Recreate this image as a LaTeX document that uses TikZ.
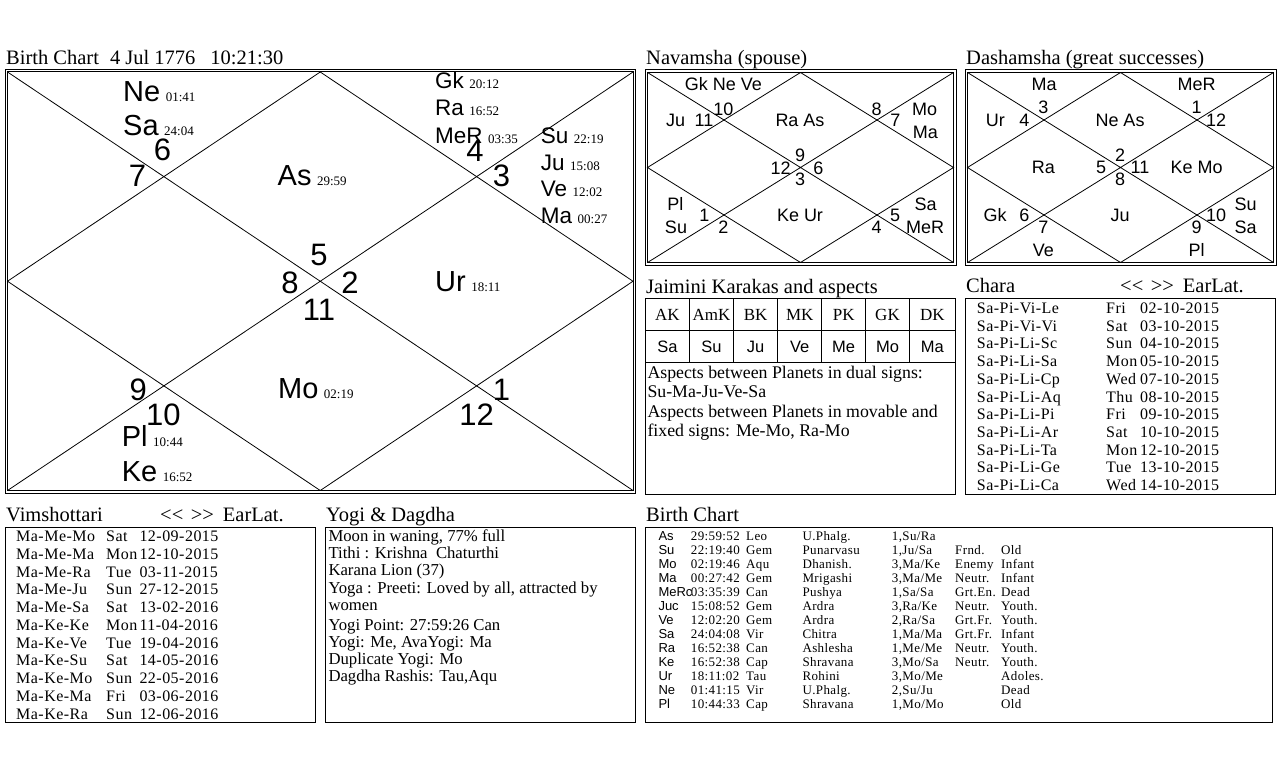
\documentclass[tikz,border=0pt]{standalone}
\usepackage{fontspec}
\setmainfont{Liberation Serif}
\setsansfont{Liberation Sans}
\newfontfamily\listfont[LetterSpace=3]{Liberation Serif}
\usetikzlibrary{calc}
\def\fsz#1{\fontsize{#1}{#1}\selectfont}
\def\pd#1#2{#1\hspace{5.5pt}{\rmfamily\fsz{13}#2}}
\def\earlat{\makebox[30.7pt][l]{\mbox{<}\mbox{<}}\makebox[32pt][l]{\mbox{>}\mbox{>}}EarLat.}

\tikzset{
  frame/.style={line width=1pt},
  cut/.style={line width=0.8pt},
  ttl/.style={font=\rmfamily\fsz{20.5},anchor=base west,inner sep=0pt},
  plan/.style={font=\sffamily\fsz{29},anchor=base west,inner sep=0pt},
  splan/.style={font=\sffamily\fsz{22.5},anchor=base west,inner sep=0pt},
  hnum/.style={font=\sffamily\fsz{31},anchor=base,inner sep=0pt},
  dlab/.style={font=\sffamily\fsz{18},anchor=base,inner sep=0pt},
  khead/.style={font=\rmfamily\fsz{17},anchor=base,inner sep=0pt},
  kval/.style={font=\sffamily\fsz{16.5},anchor=base,inner sep=0pt},
  para/.style={font=\rmfamily\fsz{17.8},anchor=base west,inner sep=0pt},
  ypara/.style={font=\rmfamily\fsz{16.7},anchor=base west,inner sep=0pt},
  row/.style={font=\listfont\fsz{16},anchor=base west,inner sep=0pt},
  btxt/.style={font=\listfont\fsz{13},anchor=base west,inner sep=0pt},
  bsans/.style={font=\sffamily\fsz{13},anchor=base west,inner sep=0pt}
}

% north indian square: name, inner nw (x,y), inner se (x,y)
\def\kundli#1#2#3#4#5{%
  \draw[frame] (#2-2.5,#3-2.5) rectangle (#4+2.5,#5+2.5);
  \draw[frame] (#2,#3) rectangle (#4,#5);
  \coordinate (#1-nw) at (#2,#3); \coordinate (#1-ne) at (#4,#3);
  \coordinate (#1-se) at (#4,#5); \coordinate (#1-sw) at (#2,#5);
  \draw[cut] (#1-nw) -- (#1-se) (#1-ne) -- (#1-sw);
  \draw[cut] ($(#1-nw)!.5!(#1-ne)$) -- ($(#1-ne)!.5!(#1-se)$) -- ($(#1-se)!.5!(#1-sw)$) -- ($(#1-sw)!.5!(#1-nw)$) -- cycle;
}
% one line of the planet table
\def\brow#1#2#3#4#5#6#7#8{%
  \node[bsans] (bp#1) at (658.3,540+14.03*#1) {#2};
  \node[btxt] (bd#1) at (690.7,540+14.03*#1) {#3};
  \node[btxt] (bs#1) at (746,540+14.03*#1) {#4};
  \node[btxt] (bn#1) at (802.3,540+14.03*#1) {#5};
  \node[btxt] (bq#1) at (891.7,540+14.03*#1) {#6};
  \node[btxt] (br#1) at (955,540+14.03*#1) {#7};
  \node[btxt] (ba#1) at (1001,540+14.03*#1) {#8};
}

\begin{document}
\begin{tikzpicture}[x=1pt,y=-1pt]
\useasboundingbox (0,0) rectangle (1280,768);

% birth chart
\node[ttl] (bctitle) at (6,65) {Birth Chart\hspace{11pt}4 Jul 1776\hspace{15pt}10:21:30};
\kundli{bc}{7.5}{72}{633}{490.5}
\node[plan] (ne) at (123,101.7) {\pd{Ne}{01:41}};
\node[plan] (sa) at (123,135.7) {\pd{Sa}{24:04}};
\node[plan] (as) at (277.5,185) {\pd{As}{29:59}};
\node[splan] (gk) at (435,88.3) {\pd{Gk}{20:12}};
\node[splan] (ra) at (435,115.7) {\pd{Ra}{16:52}};
\node[splan] (mer) at (435,143.3) {\pd{MeR}{03:35}};
\node[splan] (su) at (540.7,143.3) {\pd{Su}{22:19}};
\node[splan] (ju) at (540.7,170) {\pd{Ju}{15:08}};
\node[splan] (ve) at (540.7,196.7) {\pd{Ve}{12:02}};
\node[splan] (ma) at (540.7,223.3) {\pd{Ma}{00:27}};
\node[plan] (ur) at (435,291.7) {\pd{Ur}{18:11}};
\node[plan] (mo) at (278,398.3) {\pd{Mo}{02:19}};
\node[plan] (pl) at (121.7,446.7) {\pd{Pl}{10:44}};
\node[plan] (ke) at (121.7,481.7) {\pd{Ke}{16:52}};
\foreach \n/\x/\y [count=\k] in {6/162.5/160, 7/137.5/186.7, 4/475/161.7, 3/501.5/186.7,
    5/319/265, 8/290/293.3, 2/350/293.3, 11/319/320, 9/138.3/400, 10/163.3/425,
    1/501.5/400, 12/476.5/425}
  \node[hnum] (bh\k) at (\x,\y) {\n};

% navamsha
\node[ttl] (nvtitle) at (646,65) {Navamsha (spouse)};
\kundli{nv}{647.5}{72.5}{953.5}{262.5}
\foreach \t/\x/\y [count=\k] in {Gk Ne Ve/723.3/90, 10/723.3/115, Ju/675.5/126.7, 11/704/126.7,
    Ra As/800/126.7, 8/876.7/115, 7/895.3/126.7, Mo/924.7/115, Ma/925.3/138.3,
    9/800/161.7, 12/780.7/174.3, 6/818.3/174.3, 3/800/185, Pl/675.3/210, 1/704.3/221.7,
    Su/676/233.3, 2/723.3/233.3, Ke Ur/800/221.7, Sa/925.7/210, 5/895/221.7,
    MeR/925/233.3, 4/876.7/233.3}
  \node[dlab] (nv\k) at (\x,\y) {\t};

% dashamsha
\node[ttl] (dstitle) at (966,65) {Dashamsha (great successes)};
\kundli{ds}{967.5}{72.5}{1273.5}{262.5}
\foreach \t/\x/\y [count=\k] in {Ma/1044/90, MeR/1196.7/90, 3/1043.3/113.3, Ur/995.3/126.7,
    4/1024.3/126.7, Ne As/1120/126.7, 1/1196.7/113.3, 12/1216/126.7, Ra/1043.3/173.3,
    5/1101/173.3, 2/1120/161.7, 11/1140/173.3, 8/1120/185, Ke Mo/1196.7/173.3,
    Gk/995/221.7, 6/1024.3/221.7, 7/1043.3/233.3, Ju/1120/221.7, 10/1216/221.7,
    9/1196.7/233.3, Su/1245.7/210, Sa/1245.7/233.3, Ve/1043.3/256.7, Pl/1196.7/256.7}
  \node[dlab] (ds\k) at (\x,\y) {\t};

% jaimini karakas
\node[ttl] (jktitle) at (646,293.3) {Jaimini Karakas and aspects};
\draw[frame] (645,298.3) rectangle (955.7,494);
\draw[frame] (645,330.7) -- (955.7,330.7) (645,362.3) -- (955.7,362.3);
\foreach \x in {689.3,733.7,777.7,821.7,865.7,909.3}
  \draw[frame] (\x,298.3) -- (\x,362.3);
\foreach \h/\v/\x [count=\k] in {AK/Sa/667.4, AmK/Su/711.5, BK/Ju/755.7, MK/Ve/799.7,
    PK/Me/843.7, GK/Mo/887.5, DK/Ma/932.4}{
  \node[khead] (jh\k) at (\x,320) {\h};
  \node[kval] (jv\k) at (\x,352.7) {\v};
}
\node[para] (asp1) at (647.3,378.3) {Aspects between Planets in dual signs:};
\node[para] (asp2) at (647.3,397.7) {Su-Ma-Ju-Ve-Sa};
\node[para] (asp3) at (647.3,417.7) {Aspects between Planets in movable and};
\node[para] (asp4) at (647.3,436.7) {fixed signs: Me-Mo, Ra-Mo};

% chara
\node[ttl] (chtitle) at (966,292.7) {Chara};
\node[ttl] (chnav) at (1120,292.7) {\earlat};
\draw[frame] (965,298.3) rectangle (1275.7,494);
\foreach \per/\dy/\dt [count=\i from 0] in {Sa-Pi-Vi-Le/Fri/02-10-2015, Sa-Pi-Vi-Vi/Sat/03-10-2015,
    Sa-Pi-Li-Sc/Sun/04-10-2015, Sa-Pi-Li-Sa/Mon/05-10-2015, Sa-Pi-Li-Cp/Wed/07-10-2015,
    Sa-Pi-Li-Aq/Thu/08-10-2015, Sa-Pi-Li-Pi/Fri/09-10-2015, Sa-Pi-Li-Ar/Sat/10-10-2015,
    Sa-Pi-Li-Ta/Mon/12-10-2015, Sa-Pi-Li-Ge/Tue/13-10-2015, Sa-Pi-Li-Ca/Wed/14-10-2015}{
  \node[row] (cp\i) at (976.7,313.3+17.74*\i) {\per};
  \node[row] (cd\i) at (1106,313.3+17.74*\i) {\dy};
  \node[row] (ct\i) at (1140,313.3+17.74*\i) {\dt};
}

% vimshottari
\node[ttl] (vmtitle) at (6,521.7) {Vimshottari};
\node[ttl] (vmnav) at (160,521.7) {\earlat};
\draw[frame] (5,527.3) rectangle (315.7,722.7);
\foreach \per/\dy/\dt [count=\i from 0] in {Ma-Me-Mo/Sat/12-09-2015, Ma-Me-Ma/Mon/12-10-2015,
    Ma-Me-Ra/Tue/03-11-2015, Ma-Me-Ju/Sun/27-12-2015, Ma-Me-Sa/Sat/13-02-2016,
    Ma-Ke-Ke/Mon/11-04-2016, Ma-Ke-Ve/Tue/19-04-2016, Ma-Ke-Su/Sat/14-05-2016,
    Ma-Ke-Mo/Sun/22-05-2016, Ma-Ke-Ma/Fri/03-06-2016, Ma-Ke-Ra/Sun/12-06-2016}{
  \node[row] (vp\i) at (16,541.7+17.73*\i) {\per};
  \node[row] (vd\i) at (106,541.7+17.73*\i) {\dy};
  \node[row] (vt\i) at (139.3,541.7+17.73*\i) {\dt};
}

% yogi and dagdha
\node[ttl] (ygtitle) at (326,521.7) {Yogi \& Dagdha};
\draw[frame] (325,527.3) rectangle (635.7,722.7);
\node[ypara] (yg1) at (328.3,541.7) {Moon in waning, 77\% full};
\node[ypara] (yg2) at (328.3,558.3) {Tithi : Krishna\ \ Chaturthi};
\node[ypara] (yg3) at (328.3,575) {Karana Lion (37)};
\node[ypara] (yg4) at (328.3,593.3) {Yoga : Preeti: Loved by all, attracted by};
\node[ypara] (yg5) at (328.3,610.7) {women};
\node[ypara] (yg6) at (328.3,630) {Yogi Point: 27:59:26 Can};
\node[ypara] (yg7) at (328.3,647.3) {Yogi: Me, AvaYogi: Ma};
\node[ypara] (yg8) at (328.3,664.3) {Duplicate Yogi: Mo};
\node[ypara] (yg9) at (328.3,681) {Dagdha Rashis: Tau,Aqu};

% planet table
\node[ttl] (bttitle) at (646,521.7) {Birth Chart};
\draw[frame] (645,527.3) rectangle (1272.3,722.7);
\brow{0}{As}{29:59:52}{Leo}{U.Phalg.}{1,Su/Ra}{}{}
\brow{1}{Su}{22:19:40}{Gem}{Punarvasu}{1,Ju/Sa}{Frnd.}{Old}
\brow{2}{Mo}{02:19:46}{Aqu}{Dhanish.}{3,Ma/Ke}{Enemy}{Infant}
\brow{3}{Ma}{00:27:42}{Gem}{Mrigashi}{3,Ma/Me}{Neutr.}{Infant}
\brow{4}{MeRc}{03:35:39}{Can}{Pushya}{1,Sa/Sa}{Grt.En.}{Dead}
\brow{5}{Juc}{15:08:52}{Gem}{Ardra}{3,Ra/Ke}{Neutr.}{Youth.}
\brow{6}{Ve}{12:02:20}{Gem}{Ardra}{2,Ra/Sa}{Grt.Fr.}{Youth.}
\brow{7}{Sa}{24:04:08}{Vir}{Chitra}{1,Ma/Ma}{Grt.Fr.}{Infant}
\brow{8}{Ra}{16:52:38}{Can}{Ashlesha}{1,Me/Me}{Neutr.}{Youth.}
\brow{9}{Ke}{16:52:38}{Cap}{Shravana}{3,Mo/Sa}{Neutr.}{Youth.}
\brow{10}{Ur}{18:11:02}{Tau}{Rohini}{3,Mo/Me}{}{Adoles.}
\brow{11}{Ne}{01:41:15}{Vir}{U.Phalg.}{2,Su/Ju}{}{Dead}
\brow{12}{Pl}{10:44:33}{Cap}{Shravana}{1,Mo/Mo}{}{Old}
\end{tikzpicture}
\end{document}
